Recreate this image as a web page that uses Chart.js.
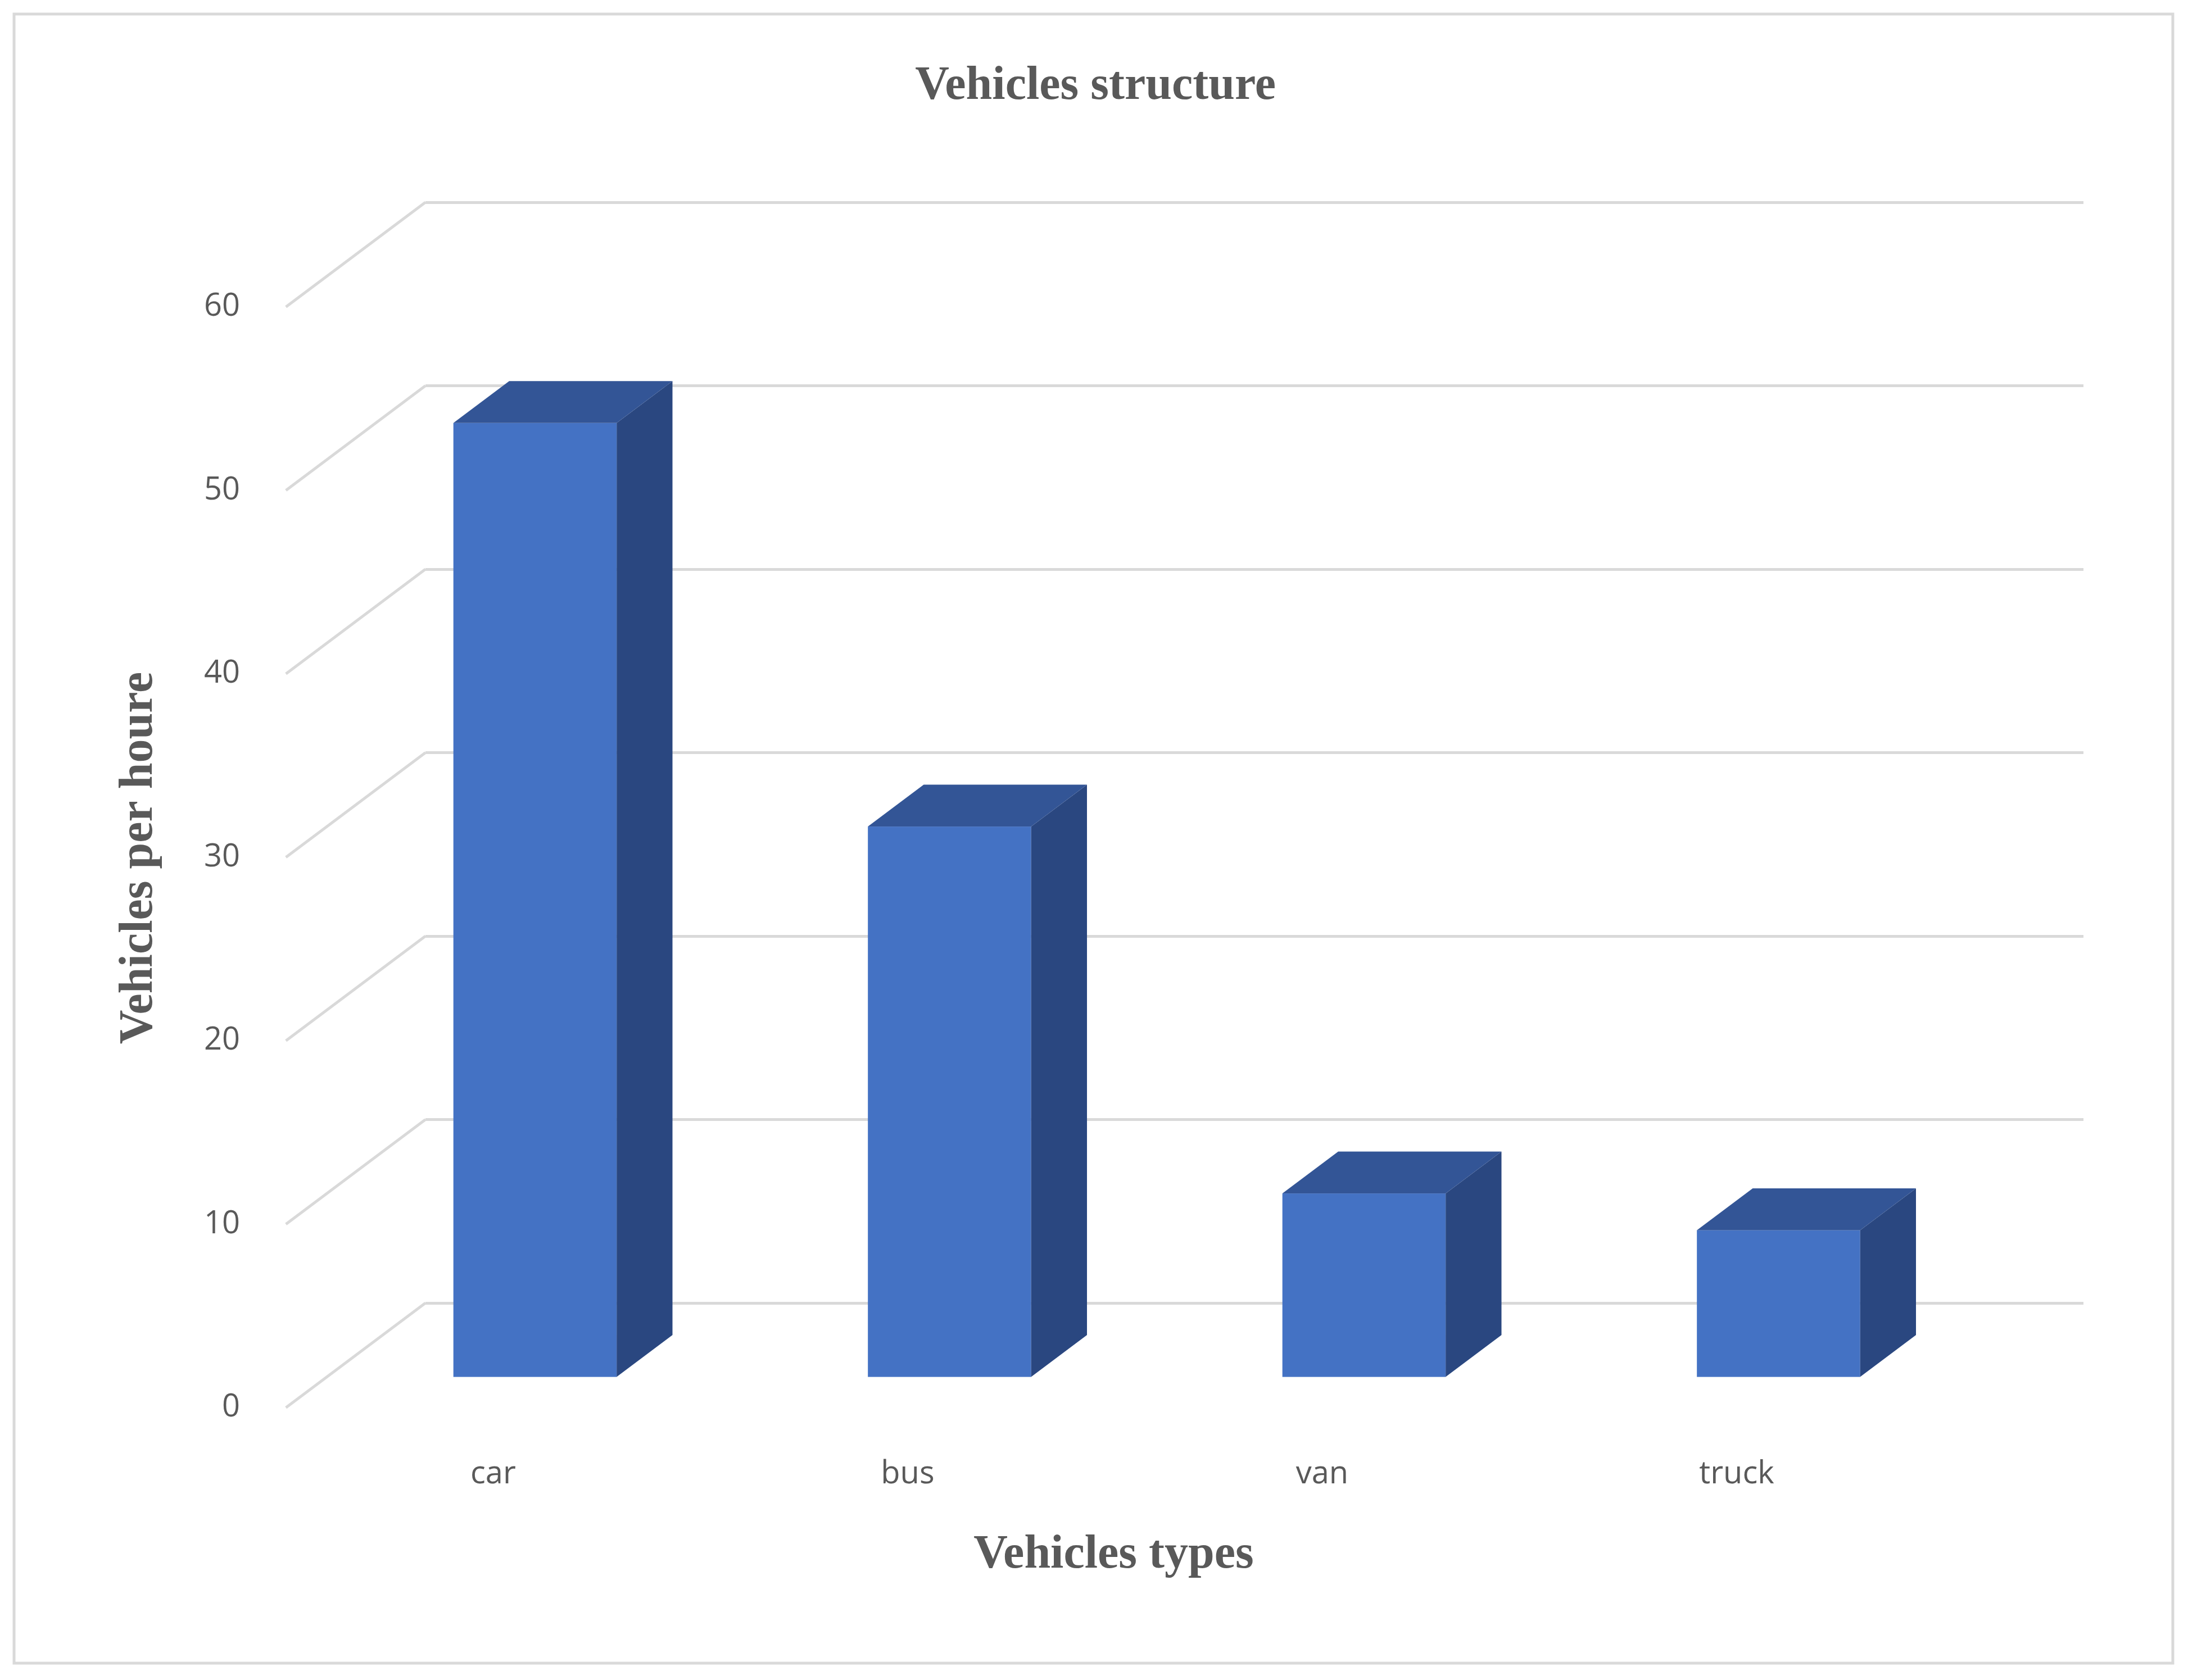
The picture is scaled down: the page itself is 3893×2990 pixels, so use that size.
<!DOCTYPE html>
<html><head><meta charset="utf-8">
<script src="https://cdn.jsdelivr.net/npm/chart.js@4"></script>
<style>html,body{margin:0;padding:0;background:#fff}#w{width:3893px;height:2990px}</style>
</head><body><div id="w"><canvas id="c"></canvas></div>
<script>
const categories = ["car", "bus", "van", "truck"];
const vehiclesPerHour = [52, 30, 10, 8];
const yTicks = [0, 10, 20, 30, 40, 50, 60];

const S = 2.483;
const plugin3d = {
  id: 'p3d',
  afterDatasetsDraw(chart) {
    const ctx = chart.ctx, y = chart.scales.y, x = chart.scales.x, a = chart.chartArea;
    ctx.save();
    // frame
    ctx.strokeStyle = '#d9d9d9'; ctx.lineWidth = 5;
    ctx.strokeRect(25, 25, 3841, 2935);
    // diagonals + tick labels
    ctx.lineWidth = 5; ctx.strokeStyle = '#d9d9d9';
    ctx.font = '56px "Open Sans"'; ctx.fillStyle = '#595959';
    ctx.textAlign = 'right'; ctx.textBaseline = 'middle';
    yTicks.forEach(v => {
      const py = y.getPixelForValue(v);
      ctx.beginPath(); ctx.moveTo(a.left, py); ctx.lineTo(a.left - 100*S, py + 75*S); ctx.stroke();
      ctx.fillText(String(v), 172*S, py + 75*S);
    });
    // bars
    const meta = chart.getDatasetMeta(0);
    const dx = 40*S, dy = 30*S;
    meta.data.forEach((bar, i) => {
      const w = 117*S;
      const cx = bar.x - 70*S;
      const top = bar.y + 53*S, bot = y.getPixelForValue(0) + 53*S;
      const l = cx - w/2, r = cx + w/2;
      ctx.fillStyle = '#4472C4'; ctx.fillRect(l, top, w, bot - top);
      ctx.fillStyle = '#2A4780';
      ctx.beginPath(); ctx.moveTo(r, top); ctx.lineTo(r+dx, top-dy); ctx.lineTo(r+dx, bot-dy); ctx.lineTo(r, bot); ctx.closePath(); ctx.fill();
      ctx.fillStyle = '#335596';
      ctx.beginPath(); ctx.moveTo(l, top); ctx.lineTo(l+dx, top-dy); ctx.lineTo(r+dx, top-dy); ctx.lineTo(r, top); ctx.closePath(); ctx.fill();
      ctx.fillStyle = '#595959'; ctx.textAlign = 'center';
      ctx.fillText(categories[i], bar.x - 100*S, 1057*S);
    });
    // titles
    ctx.fillStyle = '#595959'; ctx.textAlign = 'center'; ctx.textBaseline = 'middle';
    ctx.font = 'bold 84px "Liberation Serif"';
    ctx.fillText('Vehicles structure', 785*S, 62*S);
    ctx.fillText('Vehicles types', 798*S, 1115*S);
    ctx.translate(100*S, 615*S); ctx.rotate(-Math.PI/2);
    ctx.fillText('Vehicles per houre', 0, 0);
    ctx.restore();
  }
};

new Chart(document.getElementById('c'), {
  type: 'bar',
  data: { labels: categories, datasets: [{ data: vehiclesPerHour, backgroundColor: 'rgba(0,0,0,0)', categoryPercentage: 0.4, barPercentage: 1 }] },
  options: {
    responsive: true, maintainAspectRatio: false, animation: false,
    devicePixelRatio: 1,
    layout: { padding: { left: 757, right: 186, top: 360, bottom: 663 } },
    plugins: { legend: { display: false }, tooltip: { enabled: false } },
    scales: {
      x: { display: true, ticks: { display: false }, grid: { display: false }, border: { display: false } },
      y: { min: 0, max: 60, ticks: { display: false, stepSize: 10 }, grid: { color: '#d9d9d9', lineWidth: 5, drawTicks: false }, border: { display: false } }
    }
  },
  plugins: [plugin3d]
});
</script></body></html>
